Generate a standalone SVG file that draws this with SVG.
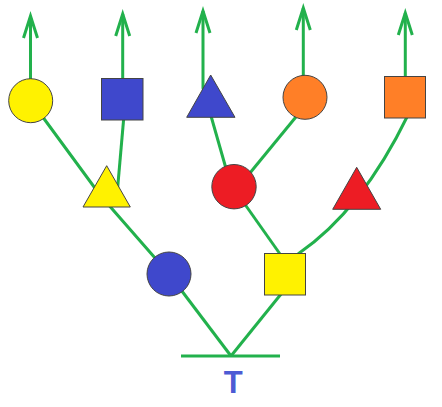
<svg xmlns="http://www.w3.org/2000/svg" width="442" height="407" viewBox="0 0 442 407">
<style>
.c{fill:none;stroke:#22b14c;stroke-width:3}
.a{marker-end:url(#ah)}
.n{stroke:#444;stroke-width:1}
.y{fill:#fff200}.b{fill:#3f48cc}.o{fill:#ff7f27}.r{fill:#ed1c24}
</style>
<defs>
<marker id="ah" markerUnits="userSpaceOnUse" markerWidth="30" markerHeight="20" viewBox="-25 -10 30 20" refX="0" refY="0" orient="auto" overflow="visible">
<path d="M-22,-7 L0,0 L-22,7" fill="none" stroke="#22b14c" stroke-width="3"/>
</marker>
</defs>
<rect width="442" height="407" fill="#fff"/>
<g id="connectors">
<path class="c a" d="M30.5,80 L30.5,16"/>
<path class="c a" d="M122.7,80 L122.7,14"/>
<path class="c a" d="M231,186 L203,88 L203,11"/>
<path class="c a" d="M303.3,78 L303.3,8"/>
<path class="c a" d="M405.3,78 L405.3,13"/>
<path class="c" d="M31,101 L100,195 L169,274"/>
<path class="c" d="M124,115 L117,195"/>
<path class="c" d="M169,274 L231,356"/>
<path class="c" d="M284.3,290 L231,356"/>
<path class="c" d="M232,186 L280,254"/>
<path class="c" d="M245,179 L300,112"/>
<path class="c" d="M408,115 Q362,210 298,254"/>
<path class="c" d="M181,356 L280,356"/>
</g>
<g id="yellowCircle"><circle class="n y" cx="30.7" cy="100.7" r="22"/></g>
<g id="blueSquare"><rect class="n b" x="101.5" y="78.5" width="41.5" height="41.5"/></g>
<g id="blueTriangle"><polygon class="n b" points="210.7,75 186.7,117.3 235,117.3"/></g>
<g id="orangeCircle"><circle class="n o" cx="305" cy="97.3" r="22"/></g>
<g id="orangeSquare"><rect class="n o" x="384.5" y="76.5" width="41" height="41.5"/></g>
<g id="yellowTriangle"><polygon class="n y" points="106.7,165.7 83,207 130.3,207"/></g>
<g id="redCircle"><circle class="n r" cx="234" cy="186.7" r="22.2"/></g>
<g id="redTriangle"><polygon class="n r" points="356.7,167.3 332.7,209.3 380.7,209.3"/></g>
<g id="blueCircle"><circle class="n b" cx="169" cy="274" r="22"/></g>
<g id="yellowSquare"><rect class="n y" x="264.5" y="253.5" width="41" height="41.5"/></g>
<g id="label"><text x="233.3" y="393.3" text-anchor="middle" font-family="Liberation Sans, Arial, sans-serif" font-weight="bold" font-size="31" fill="#4c5bd4">T</text></g>
</svg>
